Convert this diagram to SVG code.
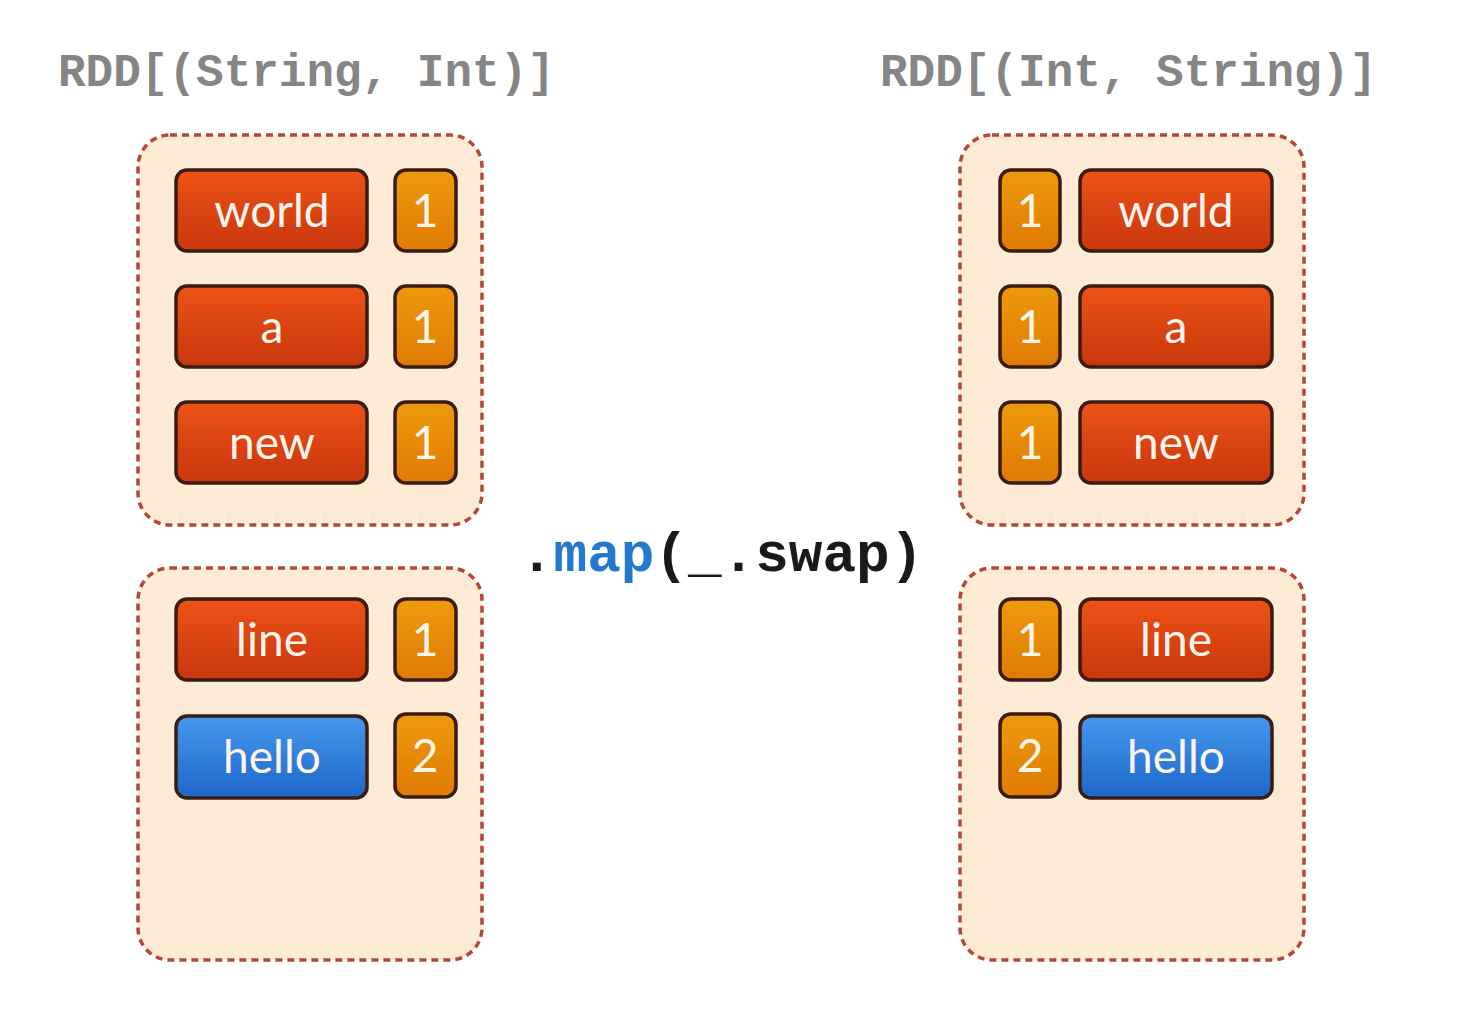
<svg xmlns="http://www.w3.org/2000/svg" width="1462" height="1028" viewBox="0 0 1462 1028">
<style>
.bg{fill:#ffffff}
.part{fill:#fdebd6;stroke:#b4463a;stroke-width:3.5;stroke-dasharray:7 5}
.w{stroke:#3a1c12;stroke-width:3.5}
.red{fill:url(#gRed)}
.org{fill:url(#gOrg)}
.blu{fill:url(#gBlu)}
.lbl{font-family:Lato,"Open Sans","DejaVu Sans",sans-serif;font-size:46px;fill:#fdf4ec;text-anchor:middle}
.ttl{font-family:"Liberation Mono","DejaVu Sans Mono",monospace;font-size:46px;font-weight:bold;fill:#858585}
.op{font-family:"Liberation Mono","DejaVu Sans Mono",monospace;font-size:56px;font-weight:bold;fill:#1a1a1a}
</style>
<defs>
<linearGradient id="gRed" x1="0" y1="0" x2="0" y2="1"><stop offset="0" stop-color="#ec5317"/><stop offset="1" stop-color="#c8360c"/></linearGradient>
<linearGradient id="gOrg" x1="0" y1="0" x2="0" y2="1"><stop offset="0" stop-color="#ef9a0c"/><stop offset="1" stop-color="#df7a04"/></linearGradient>
<linearGradient id="gBlu" x1="0" y1="0" x2="0" y2="1"><stop offset="0" stop-color="#4499ec"/><stop offset="1" stop-color="#1f66c8"/></linearGradient>
</defs>
<rect class="bg" x="0" y="0" width="1462" height="1028"/>
<g id="titles">
<text class="ttl" x="58" y="86">RDD[(String, Int)]</text>
<text class="ttl" x="880" y="86">RDD[(Int, String)]</text>
</g>
<g id="op">
<text class="op" x="520" y="571">.<tspan fill="#2479cc">map</tspan>(_.swap)</text>
</g>
<g id="left-part1"><rect class="part" x="138" y="135" width="344" height="390" rx="32"/></g>
<g id="left-part2"><rect class="part" x="138" y="568" width="344" height="392" rx="32"/></g>
<g id="right-part1"><rect class="part" x="960" y="135" width="344" height="390" rx="32"/></g>
<g id="right-part2"><rect class="part" x="960" y="568" width="344" height="392" rx="32"/></g>

<g id="l-world"><rect class="w red" x="176" y="170" width="191" height="81" rx="11"/><text class="lbl" x="272" y="227">world</text></g>
<g id="l-world-n"><rect class="w org" x="395" y="170" width="61" height="81" rx="11"/><text class="lbl" x="425" y="227">1</text></g>
<g id="l-a"><rect class="w red" x="176" y="286" width="191" height="81" rx="11"/><text class="lbl" x="272" y="343">a</text></g>
<g id="l-a-n"><rect class="w org" x="395" y="286" width="61" height="81" rx="11"/><text class="lbl" x="425" y="343">1</text></g>
<g id="l-new"><rect class="w red" x="176" y="402" width="191" height="81" rx="11"/><text class="lbl" x="272" y="459">new</text></g>
<g id="l-new-n"><rect class="w org" x="395" y="402" width="61" height="81" rx="11"/><text class="lbl" x="425" y="459">1</text></g>
<g id="l-line"><rect class="w red" x="176" y="599" width="191" height="81" rx="11"/><text class="lbl" x="272" y="656">line</text></g>
<g id="l-line-n"><rect class="w org" x="395" y="599" width="61" height="81" rx="11"/><text class="lbl" x="425" y="656">1</text></g>
<g id="l-hello"><rect class="w blu" x="176" y="716" width="191" height="82" rx="11"/><text class="lbl" x="272" y="773">hello</text></g>
<g id="l-hello-n"><rect class="w org" x="395" y="714" width="61" height="83" rx="11"/><text class="lbl" x="425" y="772">2</text></g>

<g id="r-world-n"><rect class="w org" x="1000" y="170" width="60" height="81" rx="11"/><text class="lbl" x="1030" y="227">1</text></g>
<g id="r-world"><rect class="w red" x="1080" y="170" width="192" height="81" rx="11"/><text class="lbl" x="1176" y="227">world</text></g>
<g id="r-a-n"><rect class="w org" x="1000" y="286" width="60" height="81" rx="11"/><text class="lbl" x="1030" y="343">1</text></g>
<g id="r-a"><rect class="w red" x="1080" y="286" width="192" height="81" rx="11"/><text class="lbl" x="1176" y="343">a</text></g>
<g id="r-new-n"><rect class="w org" x="1000" y="402" width="60" height="81" rx="11"/><text class="lbl" x="1030" y="459">1</text></g>
<g id="r-new"><rect class="w red" x="1080" y="402" width="192" height="81" rx="11"/><text class="lbl" x="1176" y="459">new</text></g>
<g id="r-line-n"><rect class="w org" x="1000" y="599" width="60" height="81" rx="11"/><text class="lbl" x="1030" y="656">1</text></g>
<g id="r-line"><rect class="w red" x="1080" y="599" width="192" height="81" rx="11"/><text class="lbl" x="1176" y="656">line</text></g>
<g id="r-hello-n"><rect class="w org" x="1000" y="714" width="60" height="83" rx="11"/><text class="lbl" x="1030" y="772">2</text></g>
<g id="r-hello"><rect class="w blu" x="1080" y="716" width="192" height="82" rx="11"/><text class="lbl" x="1176" y="773">hello</text></g>
<g id="connectors"></g>
</svg>
